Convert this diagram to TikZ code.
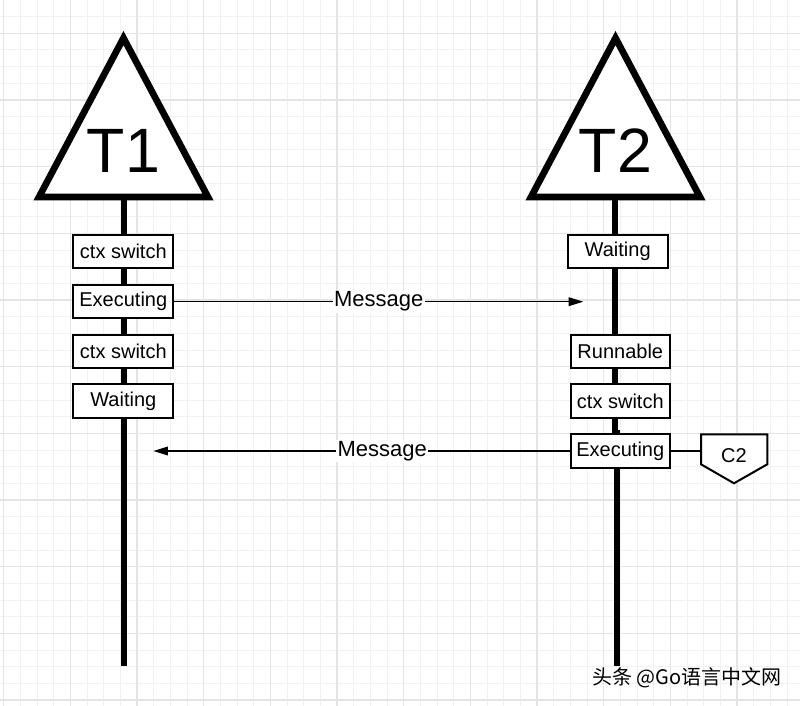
\documentclass[tikz,border=0pt]{standalone}
\usepackage{fontspec}
\setmainfont{Liberation Sans}
\newfontfamily\cjkfont{Noto Sans CJK SC}
\usetikzlibrary{arrows.meta}

\tikzset{every picture/.style={line width=0.75pt}}
\tikzset{
  minorgrid/.style={color={rgb, 255:red, 241; green, 241; blue, 241 }, line width=0.75pt},
  majorgrid/.style={color={rgb, 255:red, 228; green, 228; blue, 228 }, line width=1pt},
  thread/.style={line width=5pt, line join=miter},
  lifeline/.style={line width=4.5pt},
  statebox/.style={draw, fill=white, line width=1.5pt, minimum width=75pt, minimum height=25pt, inner sep=0pt, font=\fontsize{15}{18}\selectfont},
  msg/.style={line width=1pt, -{Triangle[length=11pt,width=6.5pt]}},
  msglabel/.style={fill=white, inner sep=1pt, font=\fontsize{16.5}{20}\selectfont},
}

\begin{document}
\begin{tikzpicture}[x=0.75pt,y=0.75pt,yscale=-1,xscale=1]
                  \useasboundingbox (0,0) rectangle (800,706);
                  \fill[white] (0,0) rectangle (800,706);

                  %Grid
                  \foreach \i in {0,...,48} {
                    \draw[minorgrid] ({3.7+\i*16.6667},0) -- ({3.7+\i*16.6667},706);
                  }
                  \foreach \j in {0,...,43} {
                    \draw[minorgrid] (0,{\j*16.6667}) -- (800,{\j*16.6667});
                  }
                  \foreach \i in {0,...,12} {
                    \draw[majorgrid] ({3.7+\i*66.6667},0) -- ({3.7+\i*66.6667},706);
                  }
                  \foreach \j in {0,...,10} {
                    \draw[majorgrid] (0,{33.3333+\j*66.6667}) -- (800,{33.3333+\j*66.6667});
                  }

                  %Coordinates of the lifelines
                  \coordinate (t1base) at (123.5,197);
                  \coordinate (t1end) at (123.5,665.7);
                  \coordinate (t2base) at (615,197);
                  \coordinate (t2upper) at (615,434);
                  \coordinate (t2jog) at (617,430);
                  \coordinate (t2end) at (617,665.7);

                  %Straight Lines [lifeline T1]
                  \draw[lifeline] (t1base) -- (t1end);
                  %Straight Lines [lifeline T2]
                  \draw[lifeline] (t2base) -- (t2upper);
                  \draw[lifeline] (t2jog) -- (t2end);

                  %Shape: Triangle [T1]
                  \draw[thread, fill=white] (123.5,38) -- (208,197) -- (39,197) -- cycle;
                  %Shape: Triangle [T2]
                  \draw[thread, fill=white] (615.5,38) -- (700,197) -- (531,197) -- cycle;

                  % Text Node
                  \node[anchor=base, inner sep=0pt, font=\fontsize{47}{56}\selectfont] (t1) at (123.5,173) {T1};
                  % Text Node
                  \node[anchor=base, inner sep=0pt, font=\fontsize{47}{56}\selectfont] (t2) at (615.5,173) {T2};

                  %States of T1
                  \node[statebox] (a1) at (123.3,251.7) {ctx switch};
                  \node[statebox] (a2) at (123.3,301.7) {Executing};
                  \node[statebox] (a3) at (123.3,351.5) {ctx switch};
                  \node[statebox] (a4) at (123.3,401) {Waiting};

                  %States of T2
                  \node[statebox] (b1) at (617.7,251.7) {Waiting};
                  \node[statebox, minimum width=74.5pt] (b2) at (620.3,351.5) {Runnable};
                  \node[statebox, minimum width=74.5pt] (b3) at (620.3,401) {ctx switch};
                  \node[statebox, minimum width=74.5pt] (b4) at (620.3,451) {Executing};

                  %Messages
                  \coordinate (m1end) at (583.3,301.7);
                  \coordinate (m2end) at (153.3,451);
                  \draw[msg] (a2.east) -- node[msglabel] (m1) {Message} (m1end);
                  \draw[msg] (b4.west) -- node[msglabel, pos=0.45] (m2) {Message} (m2end);

                  %Shape: Off-page connector [C2]
                  \draw[line width=1.5pt, fill=white, line join=miter] (701,434.3) -- (767.3,434.3) -- (767.3,464.3) -- (734,483.3) -- (701,464.3) -- cycle;
                  \coordinate (c2w) at (701,451);
                  \node[inner sep=0pt, font=\fontsize{15}{18}\selectfont] (c2) at (734,456) {C2};
                  \draw[line width=1pt] (b4.east) -- (c2w);

                  % Text Node
                  \node[anchor=east, inner sep=0pt, font=\cjkfont\fontsize{15}{18}\selectfont] (mark) at (782,678) {头条 @Go语言中文网};

\end{tikzpicture}
\end{document}
